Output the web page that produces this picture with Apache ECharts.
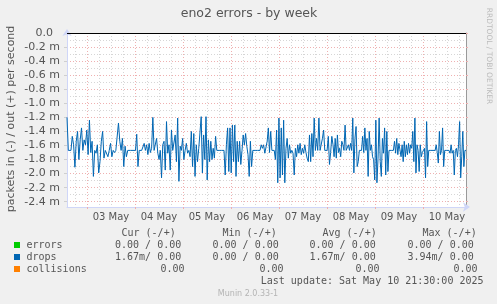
<!DOCTYPE html>
<html><head><meta charset="utf-8">
<script src="https://cdn.jsdelivr.net/npm/echarts@6/dist/echarts.min.js"></script>
<style>html,body{margin:0;padding:0;background:#f0f0f0;}#c{width:497px;height:304px;}</style>
</head><body><div id="c"></div>
<script>
// ---- data (hours relative to 03 May 00:00; values in milli packets/s, "in" direction) ----
const dayLabels = ['03 May','04 May','05 May','06 May','07 May','08 May','09 May','10 May'];
const dayNoonHours = [12,36,60,84,108,132,156,180];
const midnightHours = [0,24,48,72,96,120,144,168];
const yTickValues = [0,-0.2,-0.4,-0.6,-0.8,-1.0,-1.2,-1.4,-1.6,-1.8,-2.0,-2.2,-2.4];
const segStartHours = [-10, 23, 56.5, 89.5, 123, 156.5, 189.5];

const dropsIn1 = [1.20,1.67,1.67,1.67,1.47,1.59,1.91,1.54,1.40,1.80,1.52,1.35,1.67,1.52,1.59,1.38,1.73,1.24,1.70,1.54,2.04,1.67,1.71,1.59,1.99,1.83,1.54,1.40,1.78,1.67,1.67,1.76,1.67,1.57,1.76,1.67,1.70,1.67,1.67,1.28,1.54,1.67,1.50,1.90,1.61,1.76,1.67,1.67,1.67,1.67];
const dropsIn2 = [1.67,1.67,1.67,1.44,1.90,1.67,1.67,1.67,1.67,1.57,1.67,1.59,1.73,1.57,1.70,1.64,1.20,1.67,1.67,1.50,1.71,1.80,1.67,2.06,1.59,1.54,1.95,1.26,1.71,1.59,1.95,1.38,1.67,1.67,1.45,1.83,1.21,2.11,1.61,1.67,1.50,1.80,1.67,1.57,1.71,1.67,1.76,1.40,1.90,1.43,2.04,1.59,1.83,1.64];
const dropsIn3 = [1.64,1.19,1.99,1.45,1.80,1.19,2.09,1.52,1.83,1.54,1.80,1.64,1.78,1.47,1.67,1.67,1.67,1.67,1.67,1.67,1.67,2.02,1.59,1.35,1.97,1.35,1.99,1.31,1.83,1.31,2.04,1.54,1.83,1.54,1.87,1.67,1.45,1.59,1.43,1.61,1.73,2.04,1.54,1.90,1.67,1.67,1.67,1.67,1.67,1.67,1.67,1.59,1.64,1.59,1.71];
const dropsIn4 = [1.73,1.54,1.35,1.70,1.40,1.67,1.67,1.67,1.80,1.38,2.13,1.21,2.06,1.35,2.02,1.24,2.13,1.64,1.50,1.78,1.59,1.71,1.67,1.71,2.02,1.64,1.76,1.59,1.71,1.57,1.73,1.64,1.71,1.59,1.70,1.78,1.83,1.45,1.83,1.43,1.76,1.21,1.67,1.50,1.67,1.21,1.67,1.67,1.50,1.38,1.67,1.67,1.67,1.47,1.87,1.70,1.47];
const dropsIn5 = [1.59,1.76,1.50,1.78,1.45,1.70,1.64,1.76,1.54,1.59,1.67,1.31,1.67,1.67,1.59,1.67,1.57,1.67,1.21,1.99,1.50,1.33,1.90,1.83,1.67,1.67,1.67,1.47,1.70,1.35,1.67,1.50,2.04,1.40,1.67,1.59,1.76,1.80,2.09,1.24,2.13,1.78,1.21,1.83,2.04,1.50,1.71,1.35,2.02,1.40,1.97,1.67,1.67,1.67,1.67,1.67,1.54,1.71,1.50,1.73,1.57];
const dropsIn6 = [1.59,1.76,1.59,1.83,1.54,1.76,1.59,1.73,1.57,1.71,1.59,1.64,1.40,1.83,1.21,1.99,1.59,1.67,1.97,1.59,1.76,1.70,1.67,1.64,2.06,1.26,1.90,1.67,1.67,1.67,1.67,1.67,1.67,1.67,1.59,1.70,1.85,1.40,1.73,1.67,1.35,1.90,1.67,1.67,1.67,1.67,1.67,1.71,1.59,1.71,1.67,2.02,1.67,1.64,1.76,1.59,1.26,2.06,1.76,1.40,1.90,1.67,1.67];

const legendHeaders = ['Cur (-/+)','Min (-/+)','Avg (-/+)','Max (-/+)'];
const legendNames = ['errors','drops','collisions'];
const legendColors = ['#00cc00','#0066b3','#ff8000'];
const legendValues = [
  ['0.00 / 0.00','0.00 / 0.00','0.00 / 0.00','0.00 / 0.00'],
  ['1.67m/ 0.00','0.00 / 0.00','1.67m/ 0.00','3.94m/ 0.00'],
  ['0.00','0.00','0.00','0.00']
];
const titleText = 'eno2 errors - by week';
const yName = 'packets in (-) / out (+) per second';
const lastUpdate = 'Last update: Sat May 10 21:30:00 2025';
const versionText = 'Munin 2.0.33-1';
const sideText = 'RRDTOOL / TOBI OETIKER';

// ---- build ----
const segs = [dropsIn1,dropsIn2,dropsIn3,dropsIn4,dropsIn5,dropsIn6];
const drops = [];
segs.forEach((s,i)=>{
  const a = segStartHours[i], b = segStartHours[i+1];
  const last = i === segs.length-1;
  s.forEach((v,j)=>drops.push([a + (b-a)*j/(last ? s.length-1 : s.length), -v]));
});
const xMinor = [];
for (let t=-6; t<=189; t+=6) if (t % 24 !== 0) xMinor.push(t);
const yMinor = [];
for (let k=1; k<=24; k+=2) yMinor.push(-k/10);

const FONT = 'DejaVu Sans';
const MONO = 'DejaVu Sans Mono';
const TXT = '#555';
const MAJ = '#efb0b0';
const MIN = '#d6d6d6';

const graphic = [
  {type:'text', x:249, y:14, style:{text:titleText, font:'12.5px "'+FONT+'"', fill:TXT, align:'center', verticalAlign:'middle'}},
  {type:'text', x:11, y:119, rotation:Math.PI/2, style:{text:yName, font:'11px "'+FONT+'"', fill:TXT, align:'center', verticalAlign:'middle'}},
  {type:'text', x:489, y:56, rotation:-Math.PI/2, style:{text:sideText, font:'7.5px "'+FONT+'"', fill:'#bbb', align:'center', verticalAlign:'middle'}},
  {type:'text', x:248, y:293.5, style:{text:versionText, font:'8px "'+FONT+'"', fill:'#b4b4b4', align:'center', verticalAlign:'middle'}}
];
const headX = [121.5, 222.5, 322.5, 422.5];
const valX = [115, 212.5, 309.5, 407.5];
const colRight = [184.5, 283.5, 379.5, 477.5];
const rowY = [245.5, 257.5, 269.5];
legendHeaders.forEach((h,i)=>graphic.push({type:'text', x:headX[i], y:233.5, style:{text:h, font:'10px "'+MONO+'"', fill:TXT, align:'left', verticalAlign:'middle'}}));
legendNames.forEach((n,r)=>{
  graphic.push({type:'rect', shape:{x:14, y:rowY[r]-3.5, width:6, height:6}, style:{fill:legendColors[r]}});
  graphic.push({type:'text', x:26.5, y:rowY[r], style:{text:n, font:'10px "'+MONO+'"', fill:TXT, align:'left', verticalAlign:'middle'}});
  legendValues[r].forEach((v,c)=>{
    const right = r === 2;
    graphic.push({type:'text', x: right ? colRight[c] : valX[c], y:rowY[r], style:{text:v, font:'10px "'+MONO+'"', fill:TXT, align: right ? 'right':'left', verticalAlign:'middle'}});
  });
});
graphic.push({type:'text', x:483.5, y:281.5, style:{text:lastUpdate, font:'10px "'+MONO+'"', fill:TXT, align:'right', verticalAlign:'middle'}});

const chart = echarts.init(document.getElementById('c'), null, {renderer:'canvas'});
chart.setOption({
  backgroundColor:'#f0f0f0',
  animation:false,
  grid:{left:67, right:31, top:33, bottom:97, show:true, backgroundColor:'#ffffff', borderWidth:0},
  xAxis:[
    {type:'value', min:-10, max:189.5, position:'bottom',
     axisLine:{show:false, onZero:false}, axisTick:{show:false, customValues:xMinor}, axisLabel:{show:false},
     splitLine:{show:true, lineStyle:{color:MIN, type:[1,2], width:1}}},
    {type:'value', min:-10, max:189.5, position:'bottom',
     axisLine:{show:true, onZero:false, lineStyle:{color:'#CFD6F8', width:1}, symbol:['none','arrow'], symbolSize:[7,7], symbolOffset:[0,4]},
     axisTick:{show:true, customValues:midnightHours, length:2, lineStyle:{color:MAJ}},
     axisLabel:{customValues:dayNoonHours, formatter:v=>dayLabels[dayNoonHours.indexOf(v)], margin:5,
                color:TXT, fontFamily:FONT, fontSize:10},
     splitLine:{show:true, lineStyle:{color:MAJ, type:[1,2], width:1}}}
  ],
  yAxis:[
    {type:'value', min:-2.475, max:0, position:'left',
     axisLine:{show:false, onZero:false}, axisTick:{show:false, customValues:yMinor}, axisLabel:{show:false},
     splitLine:{show:true, lineStyle:{color:MIN, type:[1,2], width:1}}},
    {type:'value', min:-2.475, max:0, position:'left',
     axisLine:{show:true, onZero:false, lineStyle:{color:'#CFD6F8', width:1}, symbol:['none','arrow'], symbolSize:[7,7], symbolOffset:[0,4]},
     axisTick:{show:true, customValues:yTickValues, length:3, lineStyle:{color:'#cfcfcf'}},
     axisLabel:{customValues:yTickValues, margin:7, color:TXT, fontFamily:FONT, fontSize:11,
                formatter:v=> Math.abs(v) < 1e-9 ? '0.0  ' : (v.toFixed(1) + ' m')},
     splitLine:{show:true, lineStyle:{color:MAJ, type:[1,2], width:1}}},
    {type:'value', min:-2.475, max:0, position:'right',
     axisLine:{show:true, onZero:false, lineStyle:{color:'#9a9a9a', width:1}},
     axisTick:{show:true, customValues:yTickValues, length:2, lineStyle:{color:MAJ}},
     axisLabel:{show:false}, splitLine:{show:false}}
  ],
  series:[
    {type:'line', name:'drops', xAxisIndex:1, yAxisIndex:1, data:drops, showSymbol:false, symbol:'none',
     lineStyle:{color:'#0066b3', width:1}, z:3,
     markLine:{silent:true, symbol:'none', label:{show:false}, lineStyle:{color:'#000', width:1.2, type:'solid'},
               data:[{yAxis:0}]}}
  ],
  graphic: graphic
});
</script></body></html>
